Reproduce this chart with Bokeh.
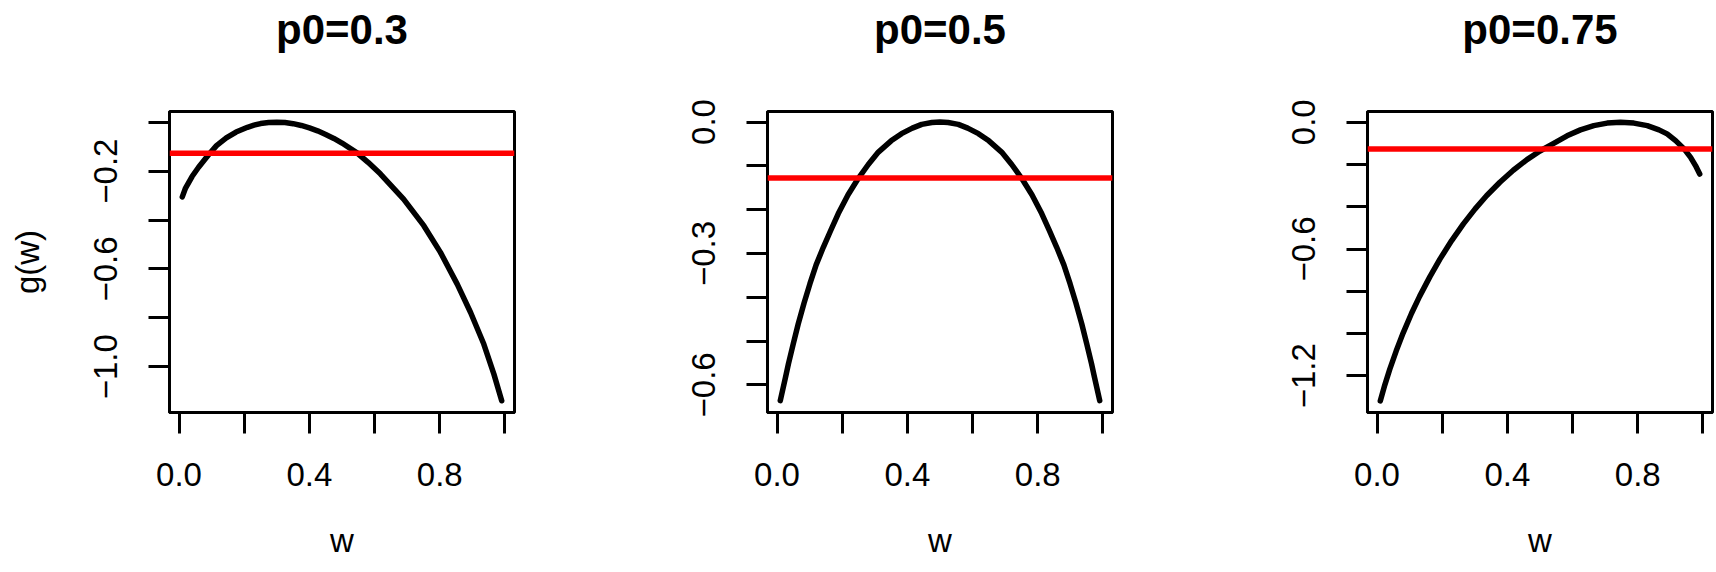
from bokeh.plotting import figure
from bokeh.layouts import row
from bokeh.models import Range1d, FixedTicker, Span, Title
from bokeh.embed import file_html
from bokeh.resources import INLINE

# ---- data ----
titles = ["p0=0.3", "p0=0.5", "p0=0.75"]
red_levels = [-0.127, -0.128, -0.127]

w1 = [0.01, 0.02, 0.04, 0.06, 0.09, 0.115, 0.145, 0.175, 0.21, 0.23, 0.25, 0.275,
      0.30, 0.325, 0.35, 0.375, 0.40, 0.425, 0.45, 0.475, 0.50, 0.546, 0.58, 0.6175,
      0.689, 0.751, 0.802, 0.8535, 0.8945, 0.935, 0.966, 0.99]
g1 = [-0.305, -0.269, -0.222, -0.184, -0.134, -0.0955, -0.064, -0.040, -0.0205,
      -0.012, -0.0055, -0.0014, 0.0, -0.0014, -0.0058, -0.013, -0.023, -0.035, -0.050,
      -0.066, -0.085, -0.125, -0.164, -0.211, -0.314, -0.423, -0.532, -0.662, -0.778,
      -0.907, -1.030, -1.139]

w2 = [0.01, 0.026, 0.035, 0.05, 0.065, 0.083, 0.101, 0.12, 0.142, 0.165, 0.188,
      0.218, 0.249, 0.28, 0.311, 0.35, 0.382, 0.415, 0.444, 0.475, 0.50,
      0.525, 0.556, 0.585, 0.618, 0.65, 0.689, 0.72, 0.751, 0.782, 0.812, 0.835,
      0.858, 0.88, 0.899, 0.917, 0.935, 0.95, 0.965, 0.974, 0.99]
g2 = [-0.636, -0.583, -0.552, -0.506, -0.461, -0.413, -0.369, -0.326, -0.286, -0.247,
      -0.209, -0.166, -0.129, -0.097, -0.0686, -0.043, -0.0266, -0.014, -0.0053,
      -0.0012, 0.0,
      -0.0012, -0.0053, -0.014, -0.0266, -0.043, -0.0686, -0.097, -0.129, -0.166,
      -0.209, -0.247, -0.286, -0.326, -0.369, -0.413, -0.461, -0.506, -0.552, -0.583,
      -0.636]

w3 = [0.01, 0.024, 0.039, 0.059, 0.080, 0.106, 0.131, 0.162, 0.193, 0.229, 0.265,
      0.301, 0.336, 0.377, 0.418, 0.460, 0.500, 0.542, 0.583, 0.624, 0.665, 0.706,
      0.747, 0.788, 0.829, 0.865, 0.890, 0.916, 0.942, 0.962, 0.977, 0.99]
g3 = [-1.319, -1.243, -1.170, -1.082, -0.998, -0.904, -0.823, -0.732, -0.648, -0.560,
      -0.481, -0.410, -0.348, -0.284, -0.227, -0.177, -0.136, -0.100, -0.064, -0.036,
      -0.016, -0.004, 0.0, -0.004, -0.016, -0.036, -0.055, -0.087, -0.126, -0.166,
      -0.205, -0.245]

x_ticks = [0.0, 0.2, 0.4, 0.6, 0.8, 1.0]
x_labels = ["0.0", "", "0.4", "", "0.8", ""]

y_ticks_1 = [0.0, -0.2, -0.4, -0.6, -0.8, -1.0]
y_labels_1 = ["", "\u22120.2", "", "\u22120.6", "", "\u22121.0"]
y_ticks_2 = [0.0, -0.1, -0.2, -0.3, -0.4, -0.5, -0.6]
y_labels_2 = ["0.0", "", "", "\u22120.3", "", "", "\u22120.6"]
y_ticks_3 = [0.0, -0.2, -0.4, -0.6, -0.8, -1.0, -1.2]
y_labels_3 = ["0.0", "", "", "\u22120.6", "", "", "\u22121.2"]

x_lim = (-0.0292, 1.0292)
y_lims = [(-1.187, 0.044), (-0.663, 0.024), (-1.374, 0.051)]

FONT = "Liberation Sans"


def make_panel(i, ws, gs, yt, yl, ylabel, border_left, border_right):
    p = figure(frame_width=345, frame_height=301, title=None,
               x_range=Range1d(*x_lim), y_range=Range1d(*y_lims[i]),
               output_backend="svg", toolbar_location=None,
               min_border_left=border_left, min_border_right=border_right,
               min_border_top=111, min_border_bottom=156)
    p.background_fill_color = "white"
    p.border_fill_color = "white"
    p.outline_line_color = "black"
    p.outline_line_width = 3
    p.xgrid.visible = False
    p.ygrid.visible = False

    # spacer (closest to the frame), then the real title above it
    p.add_layout(Title(text=" ", text_font_size="1px", standoff=56), "above")
    p.add_layout(Title(text=titles[i], align="center", text_font=FONT,
                       text_font_size="42px", text_font_style="bold",
                       text_color="black", standoff=0), "above")

    for ax in (p.xaxis[0], p.yaxis[0]):
        ax.major_tick_in = 0
        ax.major_tick_out = 21
        ax.major_tick_line_width = 3
        ax.major_tick_line_color = "black"
        ax.minor_tick_line_color = None
        ax.axis_line_width = 3
        ax.axis_line_color = "black"
        ax.major_label_text_font = FONT
        ax.major_label_text_font_size = "33px"
        ax.major_label_text_color = "black"
        ax.axis_label_text_font = FONT
        ax.axis_label_text_font_size = "33px"
        ax.axis_label_text_font_style = "normal"
        ax.axis_label_text_color = "black"

    xa = p.xaxis[0]
    xa.ticker = FixedTicker(ticks=x_ticks)
    xa.major_label_overrides = {t: l for t, l in zip(x_ticks, x_labels)}
    xa.major_label_standoff = 29
    xa.axis_label = "w"
    xa.axis_label_standoff = 33

    ya = p.yaxis[0]
    ya.ticker = FixedTicker(ticks=yt)
    ya.major_label_overrides = {t: l for t, l in zip(yt, yl)}
    ya.major_label_orientation = "vertical"
    ya.major_label_standoff = 31
    if ylabel:
        ya.axis_label = ylabel
        ya.axis_label_standoff = 46

    p.line(ws, gs, line_color="black", line_width=5.5, line_cap="round", line_join="round")
    p.add_layout(Span(location=red_levels[i], dimension="width",
                      line_color="#ff0000", line_width=5.5))
    return p


p1 = make_panel(0, w1, g1, y_ticks_1, y_labels_1, "g(w)", 169, 92)
p2 = make_panel(1, w2, g2, y_ticks_2, y_labels_2, None, 161, 94)
p3 = make_panel(2, w3, g3, y_ticks_3, y_labels_3, None, 161, 2)

layout = row(p1, p2, p3)
open("out.html", "w").write(file_html(layout, INLINE))
